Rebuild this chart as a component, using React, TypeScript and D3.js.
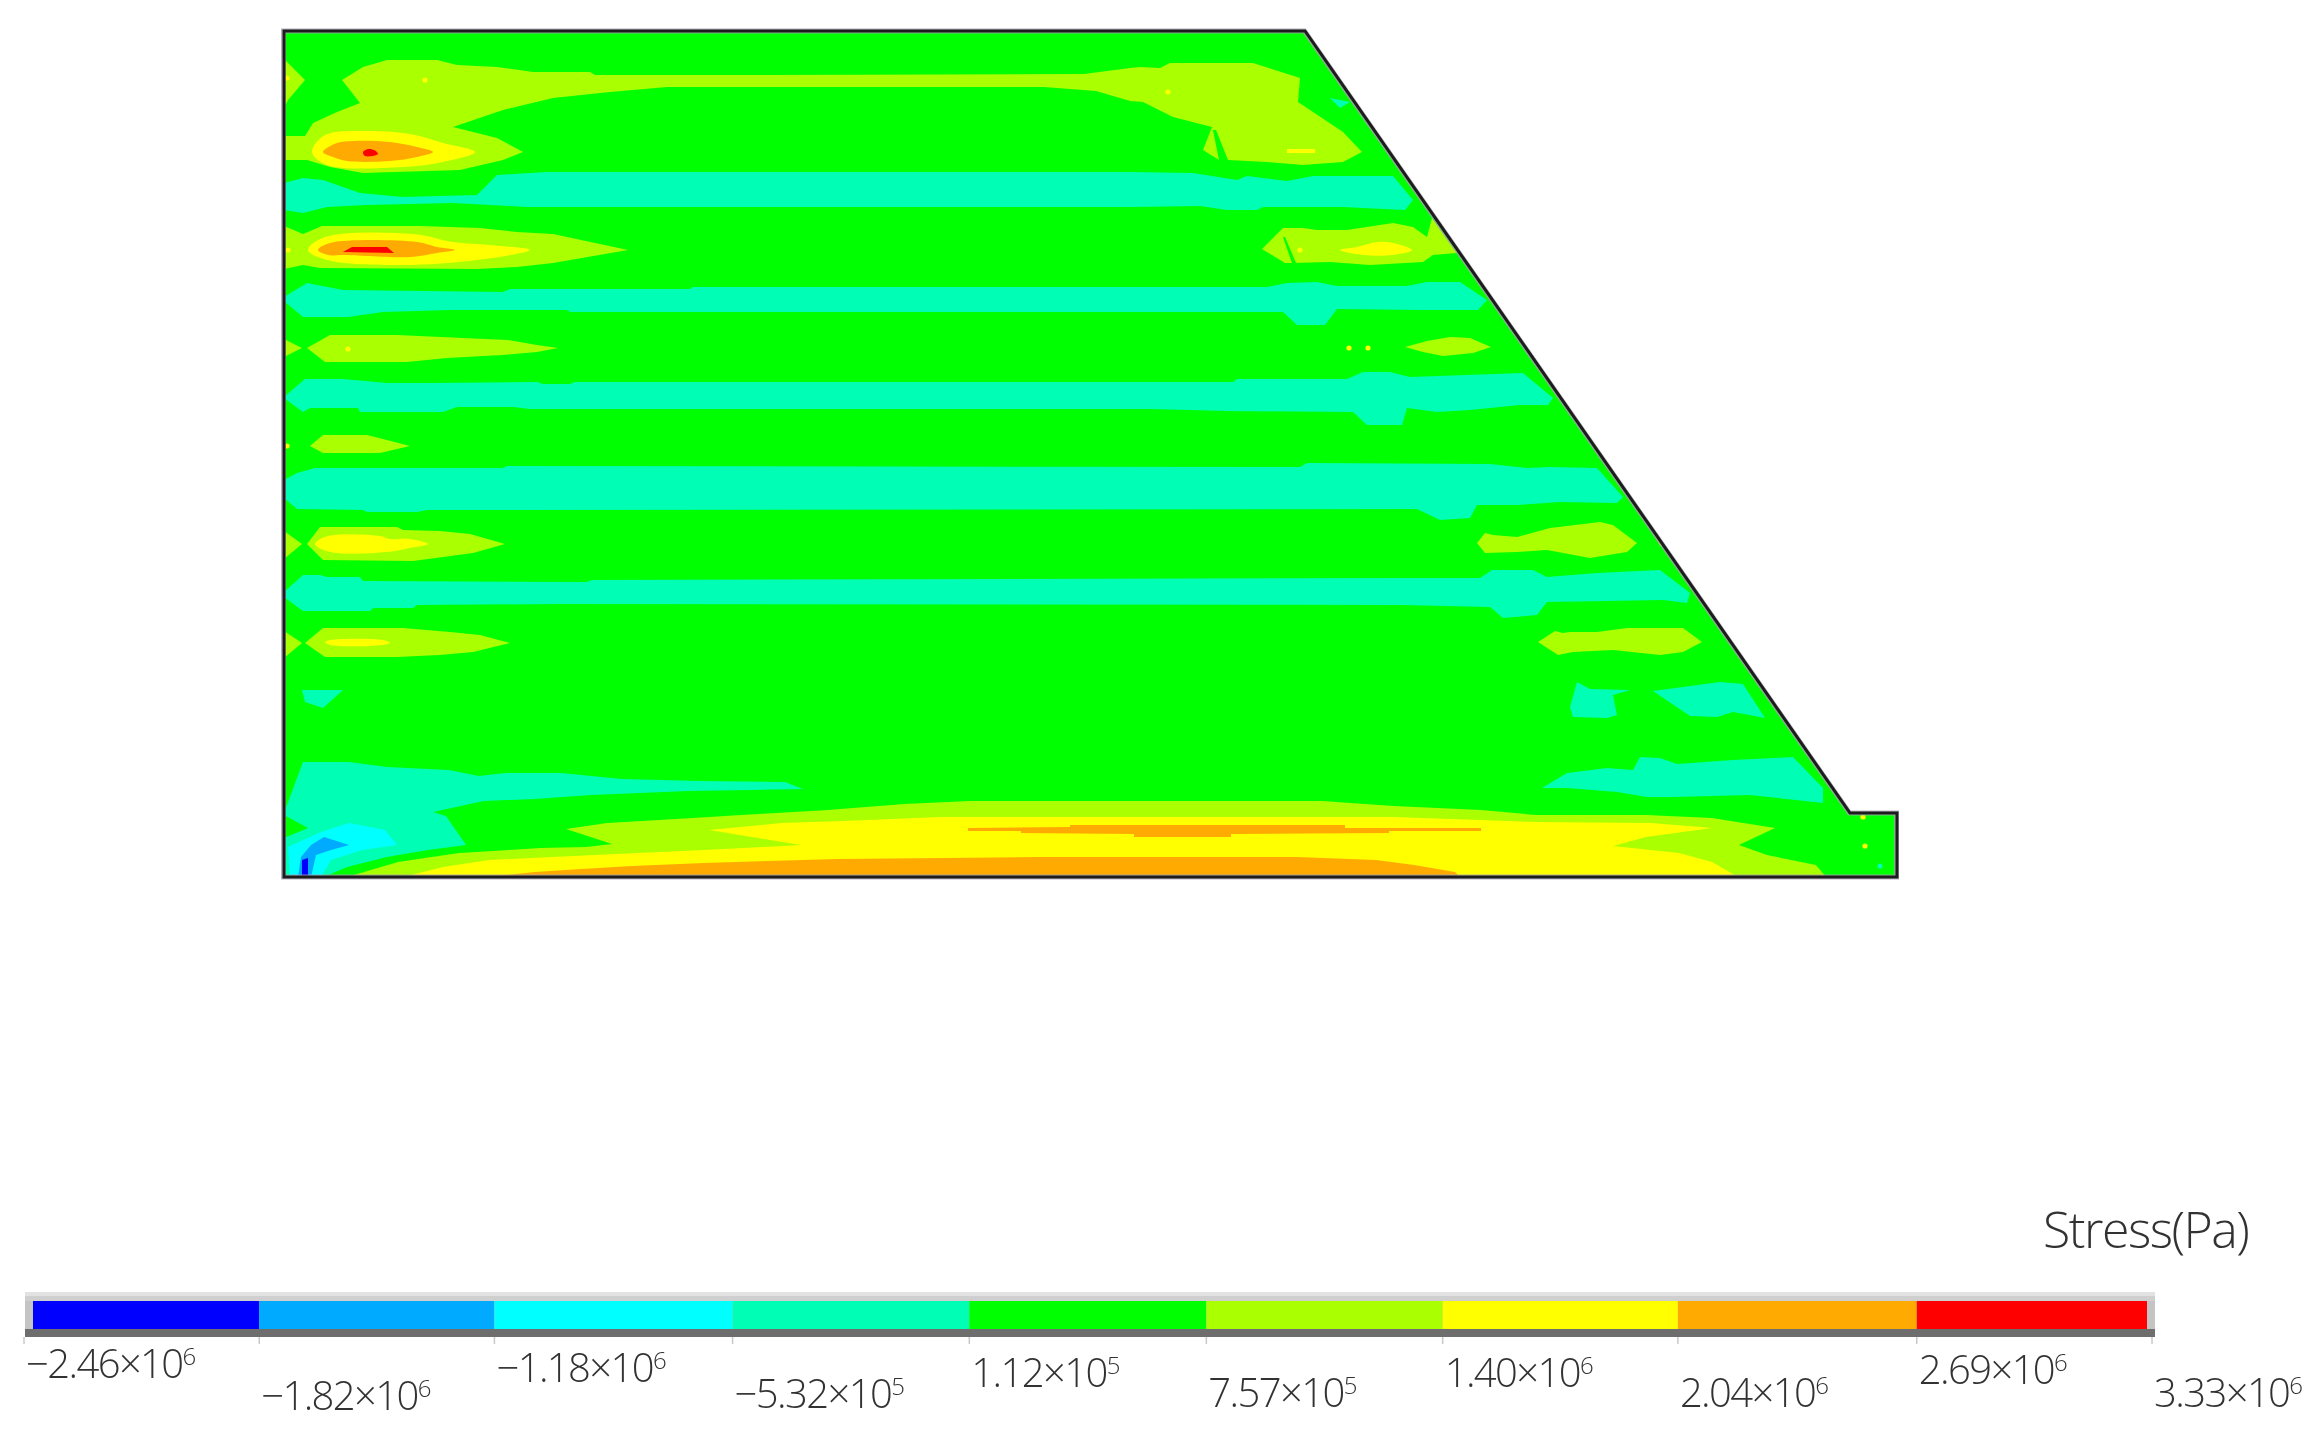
import React from "react";
import * as d3 from "d3";

type P = [number, number];

// Model coordinates: station along the base from the heel, depth below the crest.
const damOutline: P[] = [[0,0],[1021,0],[1566,782],[1613,782],[1613,846],[0,846]];

const stressTicks = [-2.46e6,-1.82e6,-1.18e6,-5.32e5,1.12e5,7.57e5,1.40e6,2.04e6,2.69e6,3.33e6];
const tickMantissas = ["\u22122.46","\u22121.82","\u22121.18","\u22125.32","1.12","7.57","1.40","2.04","2.69","3.33"];
const tickExponents = ["6","6","6","5","5","5","6","6","6","6"];
const bandColors = ["#0000ff","#00aaff","#00ffff","#00ffb4","#00ff00","#aaff00","#ffff00","#ffaa00","#ff0000"];
const legendTitle = "Stress(Pa)";

const tealRegions: P[][] = [
  [[0,152],[19,147],[39,149],[76,162],[119,166],[193,164],[213,144],[263,141],[846,141],[909,142],[953,149],[963,145],[1003,150],[1029,145],[1109,145],[1129,169],[1121,179],[1059,176],[979,176],[973,179],[943,179],[916,175],[846,176],[373,176],[243,176],[169,172],[83,174],[43,176],[19,182],[0,179]],
  [[0,266],[23,252],[59,259],[219,261],[226,258],[406,258],[409,256],[866,256],[983,256],[1003,252],[1033,251],[1053,255],[1123,255],[1143,251],[1176,251],[1203,269],[1194,279],[1136,279],[1053,278],[1041,294],[1013,294],[999,281],[486,281],[286,281],[283,279],[166,279],[99,281],[64,286],[19,286],[0,270]],
  [[0,366],[21,348],[59,348],[103,352],[146,352],[253,351],[259,353],[286,353],[291,351],[949,351],[953,348],[1063,348],[1079,341],[1106,341],[1126,346],[1239,342],[1269,367],[1264,374],[1236,374],[1186,379],[1153,381],[1123,377],[1118,394],[1083,394],[1069,381],[943,380],[866,378],[246,378],[229,376],[173,376],[159,381],[76,381],[74,377],[26,377],[19,381],[0,367]],
  [[0,449],[13,442],[31,437],[219,437],[223,435],[1016,436],[1023,432],[1206,433],[1243,437],[1266,436],[1313,437],[1339,466],[1333,472],[1276,471],[1233,474],[1193,474],[1186,487],[1156,489],[1133,478],[143,479],[133,481],[83,481],[79,479],[13,478],[0,467]],
  [[0,561],[19,544],[36,544],[43,546],[76,546],[79,550],[303,551],[308,549],[1116,547],[1196,547],[1208,539],[1249,539],[1263,546],[1313,542],[1376,539],[1406,562],[1403,572],[1379,569],[1263,571],[1253,584],[1219,587],[1206,576],[1116,574],[279,573],[133,574],[129,577],[89,577],[86,580],[19,580],[0,566]],
  [[18,659],[59,659],[39,677],[21,671]],
  [[1286,676],[1293,651],[1306,658],[1346,659],[1329,664],[1333,684],[1323,687],[1289,686]],
  [[1369,660],[1399,656],[1436,651],[1459,653],[1481,687],[1449,681],[1433,686],[1406,685]],
  [[1258,757],[1283,742],[1323,737],[1349,739],[1356,726],[1376,727],[1393,733],[1449,729],[1509,726],[1539,757],[1539,772],[1466,764],[1389,766],[1363,766],[1333,761],[1283,757]],
  [[0,782],[19,731],[65,731],[103,736],[165,739],[195,745],[221,742],[277,742],[338,748],[415,750],[501,751],[519,758],[404,760],[307,764],[251,768],[200,770],[149,781],[162,785],[182,814],[144,819],[103,826],[63,836],[40,846],[0,846]],
  [[1046,67],[1066,71],[1056,77]],
];

const greenPatches: P[][] = [
  [[0,784],[24,797],[0,807]],
  [[929,99],[932,99],[944,129],[935,129]],
  [[999,206],[1001,206],[1012,232],[1008,232]],
];

const cyanRegions: P[][] = [
  [[4,816],[37,801],[65,792],[101,799],[113,814],[78,819],[47,829],[37,846],[6,846]],
];
const skyRegions: P[][] = [
  [[17,826],[27,814],[40,806],[65,814],[47,819],[32,824],[27,846],[14,846]],
];
const blueRegions: P[][] = [
  [[18,829],[24,827],[24,846],[18,846]],
];

const yellowGreenRegions: P[][] = [
  [[0,28],[21,49],[4,69],[0,77]],
  [[58,49],[79,36],[103,29],[153,29],[173,34],[213,36],[249,41],[306,41],[311,44],[486,44],[800,43],[846,37],[856,36],[876,37],[886,32],[969,32],[1016,47],[1014,71],[1059,101],[1078,121],[1059,131],[1019,134],[983,131],[944,129],[935,129],[919,119],[928,96],[889,86],[859,71],[846,70],[812,60],[760,56],[383,56],[326,61],[269,67],[219,79],[169,96],[213,107],[239,121],[219,129],[176,139],[79,142],[46,136],[23,129],[0,129],[0,105],[21,105],[29,92],[53,81],[76,72]],
  [[0,195],[19,203],[38,195],[136,195],[196,197],[233,201],[269,203],[344,219],[269,232],[233,236],[193,238],[36,237],[19,234],[0,238]],
  [[978,218],[999,197],[1019,197],[1033,199],[1063,199],[1109,192],[1129,196],[1143,206],[1148,187],[1173,222],[1149,224],[1139,231],[1086,234],[1046,231],[1009,232],[1001,232]],
  [[0,308],[18,317],[0,326]],
  [[23,317],[46,304],[113,304],[179,307],[224,309],[253,314],[274,317],[253,321],[219,324],[163,327],[123,331],[41,331]],
  [[1121,316],[1143,310],[1166,306],[1186,307],[1207,316],[1189,322],[1159,325],[1139,321]],
  [[26,415],[39,404],[83,404],[103,409],[126,415],[96,422],[39,422]],
  [[0,500],[18,513],[0,528]],
  [[23,513],[36,496],[113,496],[119,499],[156,500],[186,503],[221,513],[189,522],[159,526],[129,530],[39,529]],
  [[1193,512],[1201,502],[1209,504],[1233,506],[1266,497],[1316,491],[1329,494],[1353,512],[1343,521],[1306,527],[1263,519],[1233,521],[1201,522]],
  [[0,600],[18,612],[0,627]],
  [[21,612],[39,597],[119,597],[166,601],[196,604],[226,612],[189,621],[156,624],[113,626],[41,626]],
  [[1254,611],[1271,600],[1279,602],[1286,601],[1313,601],[1343,597],[1399,597],[1418,611],[1399,621],[1376,624],[1329,619],[1289,621],[1274,624]],
  [[1361,487],[1367,487],[1382,515],[1376,515]],
  [[63,846],[114,831],[175,822],[256,817],[302,816],[328,813],[282,798],[323,792],[409,787],[457,784],[544,779],[620,773],[686,770],[1038,770],[1110,775],[1197,779],[1252,784],[1362,784],[1428,787],[1491,797],[1455,814],[1483,824],[1532,834],[1542,846]],
];

const yellowRegions: P[][] = [
  [[28,121],[41,104],[86,100],[126,103],[159,112],[191,121],[159,131],[119,136],[43,134]],
  [[24,219],[41,206],[129,203],[169,211],[206,214],[246,219],[193,229],[119,234],[43,229]],
  [[1056,219],[1073,216],[1093,211],[1109,212],[1128,219],[1109,224],[1079,224]],
  [[31,513],[44,505],[96,505],[106,508],[126,508],[144,513],[126,517],[103,521],[46,521]],
  [[41,611],[46,609],[99,609],[106,612],[99,614],[46,614]],
  [[1003,118],[1031,118],[1031,122],[1003,122]],
  [[119,846],[159,836],[205,829],[353,822],[420,819],[517,814],[425,799],[498,792],[559,790],[656,786],[1110,786],[1252,791],[1367,792],[1428,797],[1362,806],[1329,815],[1395,822],[1428,831],[1454,846]],
];

const orangeRegions: P[][] = [
  [[39,121],[53,112],[69,110],[106,111],[133,116],[149,121],[133,126],[106,130],[63,130],[49,126]],
  [[34,219],[46,212],[133,211],[153,216],[171,219],[153,222],[126,226],[59,224],[44,224]],
  [[203,846],[251,841],[297,838],[348,835],[420,832],[554,828],[758,826],[1013,826],[1092,829],[1130,834],[1171,841],[1176,846]],
  [[684,797],[786,796],[786,794],[1061,794],[1061,797],[1197,797],[1197,800],[1105,800],[1105,802],[947,803],[947,806],[850,806],[850,803],[737,802],[737,800],[684,800]],
];

const redRegions: P[][] = [
  [[79,121],[84,118],[90,119],[94,123],[81,125]],
  [[59,221],[68,216],[103,216],[110,222]],
];

const yellowSpots: P[] = [[3,47],[141,49],[64,318],[884,61],[4,219],[1016,219],[1065,317],[1084,317],[3,415],[1579,786],[1581,815]];
const tealSpots: P[] = [[1596,835]];

const W = 2323, H = 1435;
const labelBaselines = [1378,1410,1382,1408,1387,1407,1387,1407,1384,1407];

export default function App() {
  const x = d3.scaleLinear().domain([0, 1613]).range([284, 1897]);
  const y = d3.scaleLinear().domain([0, 846]).range([31, 877]);
  const poly = d3.line<P>().x(d => x(d[0])).y(d => y(d[1])).curve(d3.curveLinearClosed);
  const roundPoly = d3.line<P>().x(d => x(d[0])).y(d => y(d[1])).curve(d3.curveCatmullRomClosed.alpha(0.5));
  const legendX = d3.scaleLinear().domain([stressTicks[0], stressTicks[stressTicks.length - 1]]).range([24, 2152]);
  const frameL = 25, frameR = 2155;

  const layers: [P[][], string, boolean][] = [
    [tealRegions, bandColors[3], false],
    [greenPatches, bandColors[4], false],
    [cyanRegions, bandColors[2], false],
    [skyRegions, bandColors[1], false],
    [blueRegions, bandColors[0], false],
    [yellowGreenRegions, bandColors[5], false],
    [yellowRegions, bandColors[6], true],
    [orangeRegions, bandColors[7], true],
    [redRegions, bandColors[8], true],
  ];
  // slivers of the base band that cut through the yellow-green lobes
  const slivers = greenPatches.slice(1);

  return (
    <svg width={W} height={H} viewBox={`0 0 ${W} ${H}`} style={{ position: "fixed", left: 0, top: 0, background: "#fff" }}>
      <defs>
        <clipPath id="dam"><path d={poly(damOutline) ?? ""} /></clipPath>
        <filter id="soft" x="-2%" y="-2%" width="104%" height="104%"><feGaussianBlur stdDeviation="0.7" /></filter>
        <filter id="softText" x="-5%" y="-20%" width="110%" height="140%"><feGaussianBlur stdDeviation="0.45" /></filter>
      </defs>

      <g filter="url(#soft)">
        <path d={poly(damOutline) ?? ""} fill={bandColors[4]} />
        <g clipPath="url(#dam)">
          {layers.map(([regions, color, smooth], i) => (
            <g key={i} fill={color}>
              {regions.map((r, j) => <path key={j} d={(smooth && r.length <= 10 && r.length > 4 ? roundPoly(r) : poly(r)) ?? ""} />)}
            </g>
          ))}
          <g fill={bandColors[4]}>
            {slivers.map((r, j) => <path key={j} d={poly(r) ?? ""} />)}
          </g>
          {yellowSpots.map((p, i) => <circle key={i} cx={x(p[0])} cy={y(p[1])} r={2.6} fill={bandColors[6]} />)}
          {tealSpots.map((p, i) => <circle key={i} cx={x(p[0])} cy={y(p[1])} r={2.6} fill={bandColors[3]} />)}
        </g>
        <path d={poly(damOutline) ?? ""} fill="none" stroke="#a79db0" strokeWidth={5} strokeLinejoin="miter" transform="translate(-0.5,0)" opacity={0.8} />
        <path d={poly(damOutline) ?? ""} fill="none" stroke="#1c1c1c" strokeWidth={3} strokeLinejoin="miter" />
      </g>

      <g filter="url(#soft)">
        <rect x={frameL} y={1292} width={frameR - frameL} height={45} fill="#c4c4c4" />
        <rect x={frameL} y={1292} width={frameR - frameL} height={4} fill="#e2e2e2" />
        <rect x={frameL} y={1296} width={frameR - frameL} height={5} fill="#cfcfcf" />
        <rect x={frameL} y={1329} width={frameR - frameL} height={8} fill="#6e6e6e" />
        {bandColors.map((c, i) => {
          const x0 = i === 0 ? frameL + 8 : legendX(stressTicks[i]);
          const x1 = i === bandColors.length - 1 ? frameR - 8 : legendX(stressTicks[i + 1]);
          return <rect key={c} x={x0} y={1301} width={x1 - x0} height={28} fill={c} />;
        })}
        {stressTicks.map(t => (
          <line key={t} x1={legendX(t)} x2={legendX(t)} y1={1337} y2={1344} stroke="#c8c8c8" strokeWidth={1.5} />
        ))}
      </g>

      <g fontFamily="'Open Sans', sans-serif" fontWeight={300} fill="#333" filter="url(#softText)">
        {tickMantissas.map((m, i) => (
          <text key={i} x={legendX(stressTicks[i]) + 2} y={labelBaselines[i]} fontSize={40} letterSpacing={-1.6}>
            {m}{"\u00d7"}10
            <tspan dy={-13} fontSize={24}>{tickExponents[i]}</tspan>
          </text>
        ))}
        <text x={2043} y={1248} fontSize={50} letterSpacing={-1.5}>{legendTitle}</text>
      </g>
    </svg>
  );
}
